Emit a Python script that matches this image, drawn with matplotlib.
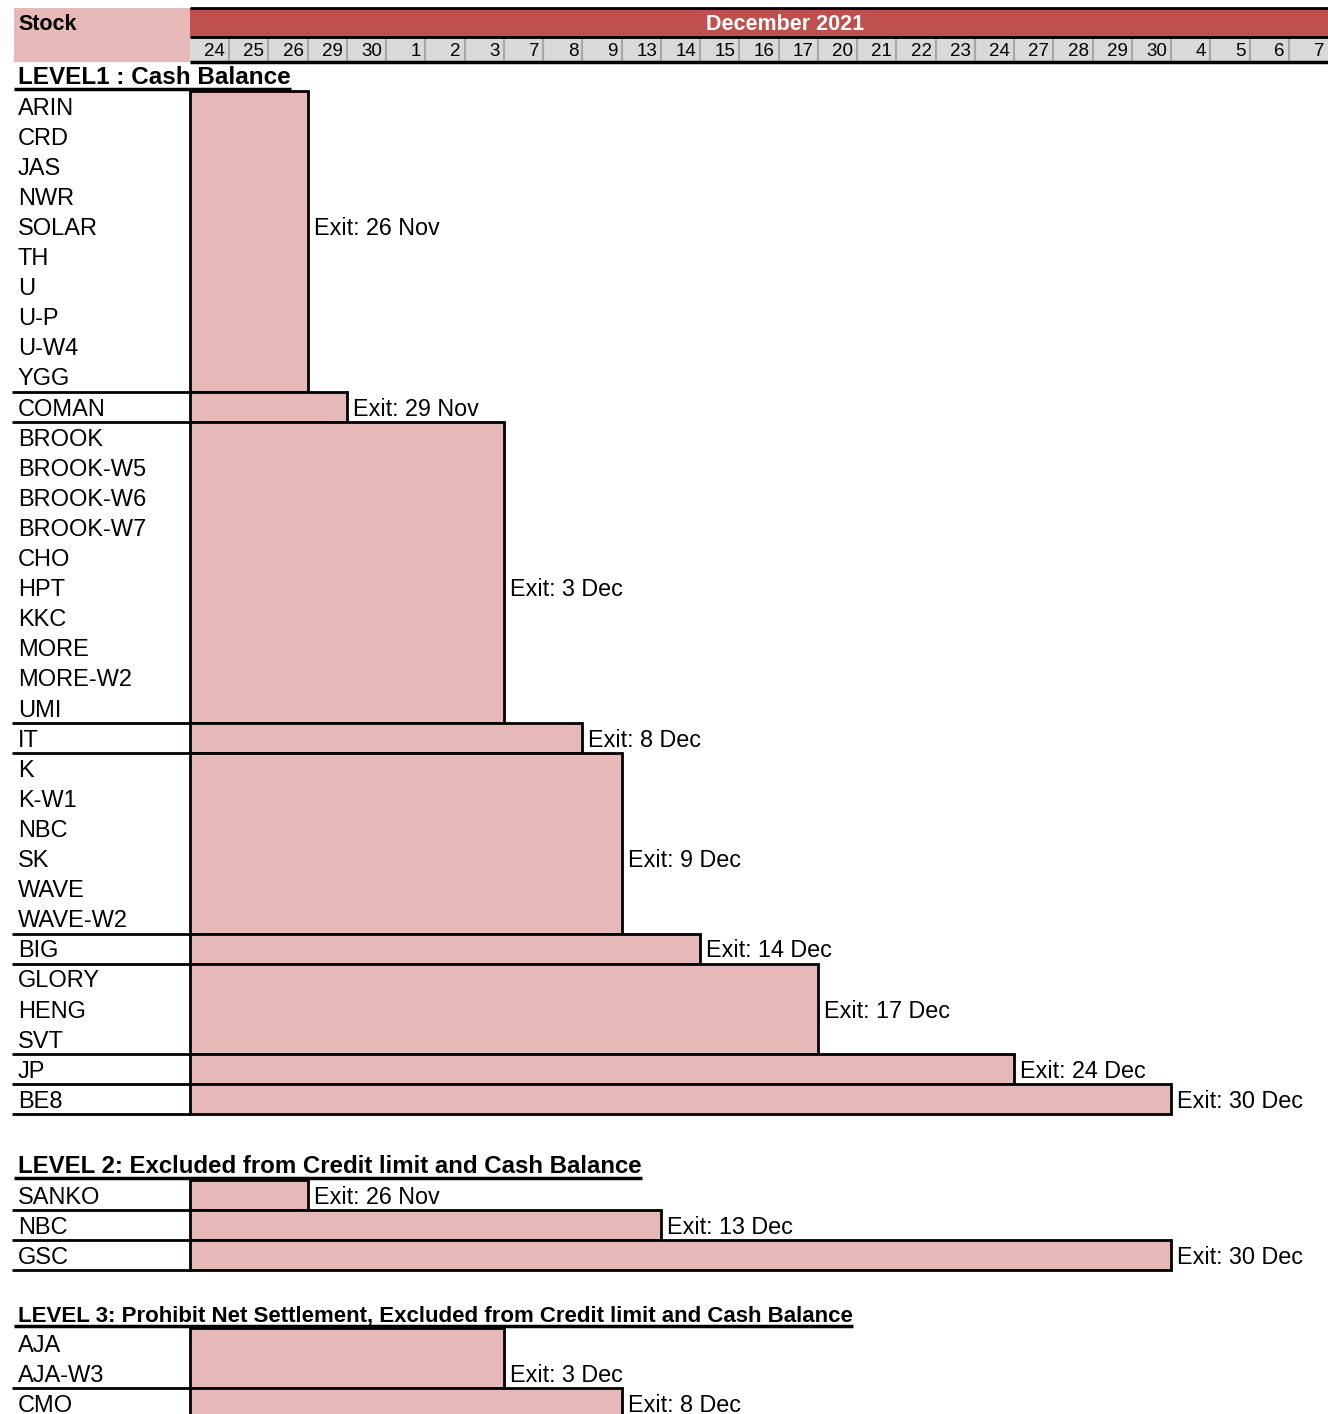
import datetime as dt
import matplotlib
matplotlib.use('Agg')
import matplotlib.pyplot as plt
from matplotlib.patches import Rectangle

plt.rcParams['font.family'] = ['Liberation Sans', 'DejaVu Sans']

# trading days shown in the header (one column each)
trade_days = ['2021-11-24', '2021-11-25', '2021-11-26', '2021-11-29', '2021-11-30',
              '2021-12-01', '2021-12-02', '2021-12-03', '2021-12-07', '2021-12-08',
              '2021-12-09', '2021-12-13', '2021-12-14', '2021-12-15', '2021-12-16',
              '2021-12-17', '2021-12-20', '2021-12-21', '2021-12-22', '2021-12-23',
              '2021-12-24', '2021-12-27', '2021-12-28', '2021-12-29', '2021-12-30',
              '2022-01-04', '2022-01-05', '2022-01-06', '2022-01-07']
month_title = 'December 2021'

level1_names = [['ARIN', 'CRD', 'JAS', 'NWR', 'SOLAR', 'TH', 'U', 'U-P', 'U-W4', 'YGG'],
                ['COMAN'],
                ['BROOK', 'BROOK-W5', 'BROOK-W6', 'BROOK-W7', 'CHO', 'HPT', 'KKC', 'MORE',
                 'MORE-W2', 'UMI'],
                ['IT'],
                ['K', 'K-W1', 'NBC', 'SK', 'WAVE', 'WAVE-W2'],
                ['BIG'],
                ['GLORY', 'HENG', 'SVT'],
                ['JP'],
                ['BE8']]
level1_exits = ['2021-11-26', '2021-11-29', '2021-12-03', '2021-12-08', '2021-12-09',
                '2021-12-14', '2021-12-17', '2021-12-24', '2021-12-30']
level1_bar_end = level1_exits

level2_names = [['SANKO'], ['NBC'], ['GSC']]
level2_exits = ['2021-11-26', '2021-12-13', '2021-12-30']
level2_bar_end = level2_exits

level3_names = [['AJA', 'AJA-W3'], ['CMO']]
level3_exits = ['2021-12-03', '2021-12-08']
# the CMO bar in the source runs one day past its exit label
level3_bar_end = ['2021-12-03', '2021-12-09']

titles = ['LEVEL1 : Cash Balance',
          'LEVEL 2: Excluded from Credit limit and Cash Balance',
          'LEVEL 3: Prohibit Net Settlement, Excluded from Credit limit and Cash Balance']
title_size = [17.5, 17.3, 16.0]

# layout (pixels of the 1328x1414 picture)
W, H = 1328, 1414
X0, Y0 = 190, 62
COL = (W - X0) / len(trade_days)
ROW = 30.1
PINK = '#e6b8b7'
RED = '#c0504d'
GRAY = '#d9d9d9'


def px_x(p):
    return (p - X0) / COL


def px_y(p):
    return (p - Y0) / ROW


section_top = [px_y(91), px_y(1180), px_y(1328)]
label_row = [[4, 0, 5, 0, 3, 0, 1, 0, 0], [0, 0, 0], [1, 0]]
base = 8.5 / ROW  # baseline below the row centre

fig = plt.figure(figsize=(W / 100, H / 100), dpi=100)
ax = fig.add_axes([0, 0, 1, 1])
ax.set_xlim(px_x(0), px_x(W))
ax.set_ylim(px_y(H), px_y(0))
ax.axis('off')

# header block
ncol = len(trade_days)
ax.add_patch(Rectangle((px_x(14), px_y(8)), px_x(X0) - px_x(14), px_y(62) - px_y(8),
                       color=PINK, lw=0))
ax.add_patch(Rectangle((0, px_y(8)), ncol, px_y(37) - px_y(8), color=RED, lw=0))
ax.add_patch(Rectangle((0, px_y(37)), ncol, -px_y(37), color=GRAY, lw=0))
ax.vlines(range(1, ncol), px_y(38), px_y(61), color='#a6a6a6', lw=1.5)
ax.hlines([px_y(8), px_y(37)], 0, ncol, color='black', lw=2)
ax.hlines(0, 0, ncol, color='black', lw=2.5)
ax.text(px_x(18), px_y(30.5), 'Stock', fontsize=15.5, fontweight='bold', va='baseline')
ax.text(px_x(785), px_y(30), month_title, fontsize=15.5, fontweight='bold',
        color='white', ha='center', va='baseline')
for i, d in enumerate(trade_days):
    day = dt.date.fromisoformat(d).day
    ax.text(i + 1 - 4 / COL, px_y(56), str(day), fontsize=13.5, ha='right', va='baseline')

fig.canvas.draw()
renderer = fig.canvas.get_renderer()
inv = ax.transData.inverted()

sections = [(level1_names, level1_exits, level1_bar_end),
            (level2_names, level2_exits, level2_bar_end),
            (level3_names, level3_exits, level3_bar_end)]

for s, (names, exits, ends) in enumerate(sections):
    top = section_top[s]
    # title with underline
    t = ax.text(px_x(18), top - 7 / ROW, titles[s], fontsize=title_size[s],
                fontweight='bold', va='baseline')
    bb = t.get_window_extent(renderer)
    x_end = inv.transform((bb.x1, bb.y0))[0]
    ax.hlines(top - 2 / ROW, px_x(14), x_end, color='black', lw=2.5)

    tops, sizes, widths = [], [], []
    y = top
    for g, grp in enumerate(names):
        col = trade_days.index(ends[g]) + 1
        tops.append(y)
        sizes.append(len(grp))
        widths.append(col)
        for k, name in enumerate(grp):
            ax.text(px_x(18), y + k + 0.5 + base, name, fontsize=17, va='baseline')
        d = dt.date.fromisoformat(exits[g])
        ax.text(col + 6 / COL, y + label_row[s][g] + 0.5 + base,
                'Exit: %d %s' % (d.day, d.strftime('%b')), fontsize=16.8, va='baseline')
        y += len(grp)
        ax.hlines(y, px_x(12), 0, color='black', lw=2)

    ax.barh(tops, widths, height=sizes, left=0, align='edge', color=PINK,
            edgecolor='black', linewidth=2)

fig.savefig('out.png', dpi=100)
